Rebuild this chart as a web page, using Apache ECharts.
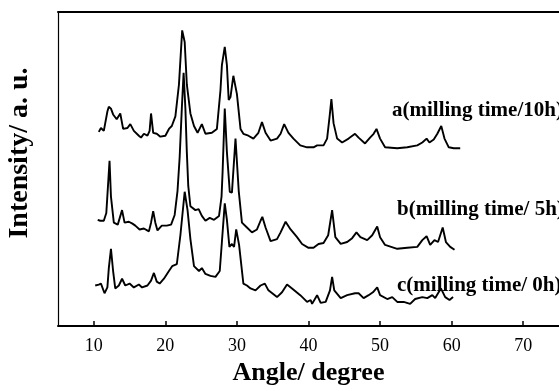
<!DOCTYPE html>
<html>
<head>
<meta charset="utf-8">
<script src="https://cdn.jsdelivr.net/npm/echarts@6/dist/echarts.min.js"></script>
<style>
  html, body { margin: 0; padding: 0; background: #fff; }
  #chart { width: 559px; height: 391px; }
</style>
</head>
<body>
<div id="chart"></div>
<script>
// XRD patterns, [2theta, intensity (a.u., stacked)]
var traceA = [[10.7,201],[11.0,205],[11.4,202],[11.9,222],[12.1,227],[12.4,225],[12.7,219],[13.2,214],[13.7,220],[14.1,204],
    [14.7,205],[15.1,209],[15.6,202],[16.3,197],[16.6,195],[17.0,199],[17.5,197],[17.8,202],[18.0,220],[18.3,200],
    [18.8,199],[19.3,196],[20.0,197],[20.5,204],[20.9,207],[21.4,217],[21.9,250],[22.35,306],[22.7,294],[23.0,250],
    [23.5,220],[24.0,207],[24.5,200],[25.1,209],[25.6,199],[26.5,200],[27.2,204],[27.7,244],[27.9,270],[28.3,289],
    [28.6,270],[28.85,234],[29.1,237],[29.5,259],[29.7,260],[30.0,240],[30.5,204],[30.9,199],[31.6,197],[32.3,194],
    [33.0,200],[33.5,211],[34.0,200],[34.7,192],[35.6,194],[36.1,199],[36.6,209],[37.2,200],[37.9,194],[38.85,187],
    [39.8,185],[40.7,185],[41.2,187],[42.1,187],[42.6,194],[42.95,217],[43.2,235],[43.5,210],[44.0,194],[44.7,190],
    [45.6,194],[46.5,199],[47.0,195],[47.9,189],[48.6,195],[49.1,199],[49.5,204],[50.0,194],[50.7,185],[52.4,184],
    [53.8,185],[55.2,187],[55.9,190],[56.5,194],[56.9,190],[57.5,193],[58.0,199],[58.55,207],[59.0,194],[59.6,185],
    [60.3,184],[61.2,184]];
var traceB = [[10.55,110],[10.9,109],[11.4,109],[11.75,117],[12.2,171],[12.4,134],[12.8,107],[13.35,105],[13.95,120],[14.3,107],
    [14.9,108],[15.4,106],[15.8,104],[16.4,100],[17.0,101],[17.7,98],[18.0,107],[18.3,119],[18.6,107],[18.9,99],
    [19.5,104],[20.2,104],[20.8,105],[21.3,115],[21.7,140],[22.0,175],[22.3,225],[22.55,262],[22.8,225],[23.0,180],
    [23.2,145],[23.5,124],[24.2,120],[24.65,121],[25.1,114],[25.6,109],[26.2,112],[26.8,110],[27.5,114],[27.85,134],
    [28.0,160],[28.3,225],[28.6,180],[29.0,139],[29.3,138],[29.8,194],[30.25,140],[30.7,107],[31.4,102],[32.1,97],
    [32.8,100],[33.3,109],[33.55,113],[34.0,102],[34.7,88],[35.6,90],[36.1,97],[36.8,108],[37.5,100],[38.4,92],
    [39.1,85],[40.0,81],[40.7,81],[41.4,85],[42.1,86],[42.75,94],[43.3,120],[43.75,92],[44.5,85],[45.4,87],
    [46.1,91],[46.7,97],[47.25,92],[48.2,89],[48.9,94],[49.6,103],[50.0,92],[50.7,84],[52.4,80],[53.8,81],
    [55.2,82],[55.9,89],[56.5,93],[57.0,84],[57.6,89],[58.1,87],[58.75,102],[59.2,87],[59.8,82],[60.4,79]];
var traceC = [[10.2,42],[10.7,43],[11.0,44],[11.5,34],[11.9,40],[12.1,60],[12.4,80],[12.7,57],[13.0,39],[13.5,42],
    [13.95,49],[14.4,42],[15.0,44],[15.6,40],[16.3,43],[16.75,40],[17.5,42],[18.0,47],[18.4,55],[18.8,46],
    [19.2,44],[19.8,49],[20.5,57],[20.95,62],[21.6,64],[22.1,94],[22.7,139],[23.1,120],[23.5,90],[24.0,62],
    [24.7,57],[25.1,60],[25.6,54],[26.3,52],[27.0,51],[27.6,57],[27.9,87],[28.3,127],[28.6,110],[28.95,82],
    [29.3,85],[29.6,82],[29.9,100],[30.3,84],[30.9,44],[31.4,42],[31.9,39],[32.6,37],[33.3,42],[33.9,44],
    [34.4,37],[35.6,30],[36.3,35],[37.0,43],[37.7,39],[38.85,32],[39.8,25],[40.3,27],[40.5,23],[41.2,32],
    [41.7,24],[42.4,25],[43.0,37],[43.3,51],[43.6,37],[44.5,29],[45.4,32],[46.5,34],[47.0,34],[47.7,29],
    [48.4,32],[49.0,35],[49.6,40],[50.0,32],[51.0,28],[51.7,30],[52.4,25],[53.3,25],[54.2,23],[54.9,28],
    [55.9,30],[56.6,29],[57.3,32],[57.7,29],[58.5,39],[59.1,30],[59.7,27],[60.2,30]];
var traceNames = ['a(milling time/10h)', 'b(milling time/ 5h)', 'c(milling time/ 0h)'];
var xTicks = [10, 20, 30, 40, 50, 60, 70];

var serif = '"Liberation Serif", "Times New Roman", serif';

function lineSeries(name, data){
    return {
        name: name, type: 'line', data: data,
        showSymbol: false, symbol: 'none', smooth: false,
        lineStyle: {color: '#000', width: 1.9},
        silent: true, animation: false
    };
}

var option = {
    backgroundColor: '#fff',
    animation: false,
    grid: {left: 58, right: -2, top: 12, bottom: 54},
    xAxis: [
        {
            type: 'value', min: 5, max: 75,
            name: 'Angle/ degree', nameLocation: 'middle', nameGap: 26,
            nameTextStyle: {color: '#000', fontFamily: serif, fontWeight: 'bold', fontSize: 26},
            axisLine: {lineStyle: {color: '#000', width: 2}},
            axisTick: {inside: true, length: 5, customValues: xTicks, lineStyle: {color: '#000', width: 1.5}},
            axisLabel: {customValues: xTicks, color: '#000', fontFamily: serif, fontSize: 18, margin: 11},
            splitLine: {show: false}
        },
        {
            type: 'value', min: 5, max: 75, position: 'top',
            axisLine: {show: true, lineStyle: {color: '#000', width: 2}},
            axisTick: {show: false}, axisLabel: {show: false}, splitLine: {show: false}
        }
    ],
    yAxis: {
        type: 'value', min: 0, max: 325,
        axisLine: {show: true, lineStyle: {color: '#000', width: 1.2}},
        axisTick: {show: false}, axisLabel: {show: false}, splitLine: {show: false}
    },
    graphic: [
        {type: 'text', x: 20, y: 153, rotation: Math.PI / 2,
            style: {text: 'Intensity/ a. u.', font: 'bold 28px ' + serif, fill: '#000', align: 'center', verticalAlign: 'middle'}},
        {type: 'text', x: 392, y: 111,
            style: {text: traceNames[0], font: 'bold 21px ' + serif, fill: '#000', align: 'left', verticalAlign: 'middle'}},
        {type: 'text', x: 397, y: 210,
            style: {text: traceNames[1], font: 'bold 21px ' + serif, fill: '#000', align: 'left', verticalAlign: 'middle'}},
        {type: 'text', x: 397, y: 286,
            style: {text: traceNames[2], font: 'bold 21px ' + serif, fill: '#000', align: 'left', verticalAlign: 'middle'}}
    ],
    series: [
        lineSeries(traceNames[0], traceA),
        lineSeries(traceNames[1], traceB),
        lineSeries(traceNames[2], traceC)
    ]
};

var myChart = echarts.init(document.getElementById('chart'));
myChart.setOption(option);
window.addEventListener("resize", function () {
    myChart.resize();
});
</script>
</body>
</html>
